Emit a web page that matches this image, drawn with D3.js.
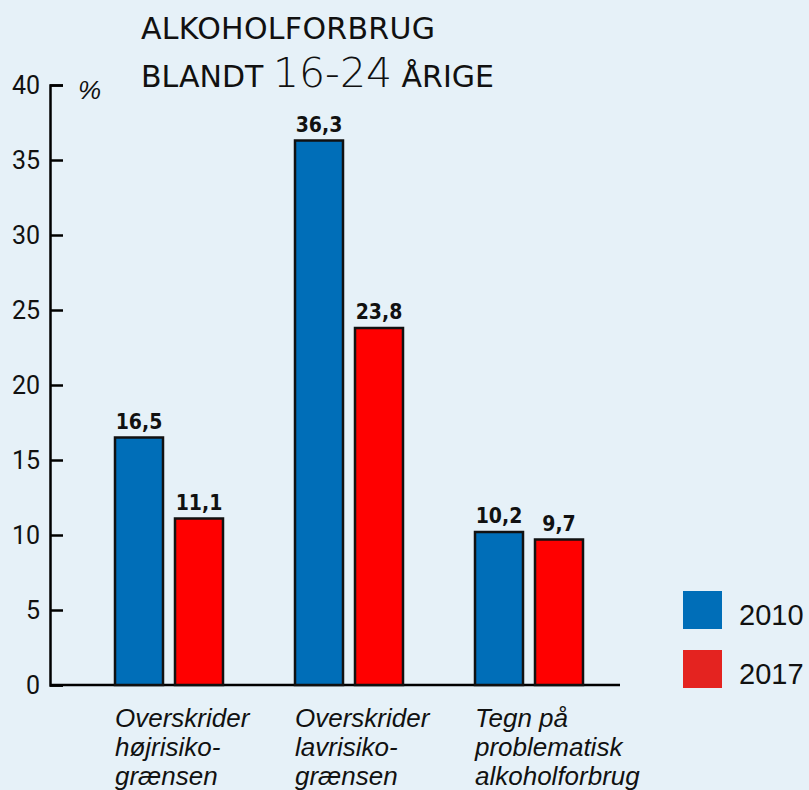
<!DOCTYPE html>
<html>
<head>
<meta charset="utf-8">
<script src="https://cdn.jsdelivr.net/npm/d3@7"></script>
<style>
  body { margin: 0; background: #e6f1f8; }
  svg { display: block; }
</style>
</head>
<body>
<div id="chart"></div>
<script>
const width = 809;
const height = 790;
const margin = { top: 85, right: 190, bottom: 105, left: 50 };

// data
const categories = [
  ['Overskrider', 'højrisiko-', 'grænsen'],
  ['Overskrider', 'lavrisiko-', 'grænsen'],
  ['Tegn på', 'problematisk', 'alkoholforbrug']
];
const years = ['2010', '2017'];
const values2010 = [16.5, 36.3, 10.2];
const values2017 = [11.1, 23.8, 9.7];
const yTicks = [0, 5, 10, 15, 20, 25, 30, 35, 40];

const barColors = { '2010': '#006eb8', '2017': '#ff0000' };
const legendColors = { '2010': '#006eb8', '2017': '#e42320' };

const rows = categories.map((c, i) => ({
  key: i,
  label: c,
  values: [
    { year: '2010', value: values2010[i] },
    { year: '2017', value: values2017[i] }
  ]
}));

const svg = d3.select('#chart')
  .append('svg')
  .attr('width', width)
  .attr('height', height);

const yScale = d3.scaleLinear()
  .domain([0, 40])
  .range([height - margin.bottom, margin.top]);

const xGroup = d3.scaleBand()
  .domain(rows.map(d => d.key))
  .range([79, 619]);

const xInner = d3.scaleBand()
  .domain(years)
  .range([36, 144])
  .paddingInner(0.2);

// title
const title = svg.append('text')
  .attr('font-family', 'DejaVu Sans, sans-serif')
  .attr('fill', '#111');
title.append('tspan')
  .attr('x', 141).attr('y', 39)
  .attr('font-size', 30)
  .attr('textLength', 294)
  .text('ALKOHOLFORBRUG');
const t2 = title.append('tspan').attr('x', 141).attr('y', 87);
t2.append('tspan').attr('font-size', 30).text('BLANDT ');
t2.append('tspan').attr('font-size', 41).attr('font-weight', 200)
  .attr('font-family', 'DejaVu Sans, sans-serif').text('16-24');
t2.append('tspan').attr('font-size', 30).text(' ÅRIGE');

// y axis
const yAxis = d3.axisLeft(yScale)
  .tickValues(yTicks)
  .tickSize(-13)
  .tickSizeOuter(-13)
  .tickPadding(10);

const yg = svg.append('g')
  .attr('transform', `translate(${margin.left},0)`)
  .call(yAxis);
yg.attr('font-size', 25).attr('font-family', 'Roboto, sans-serif');
yg.selectAll('line, path').attr('stroke', '#000').attr('stroke-width', 2.5);
yg.selectAll('text').attr('fill', '#111');

svg.append('text')
  .attr('x', 78).attr('y', 99)
  .attr('font-family', 'Liberation Sans, sans-serif')
  .attr('font-style', 'italic')
  .attr('font-size', 26)
  .attr('fill', '#111')
  .text('%');

// x axis line
svg.append('line')
  .attr('x1', margin.left).attr('x2', 620)
  .attr('y1', yScale(0)).attr('y2', yScale(0))
  .attr('stroke', '#000').attr('stroke-width', 2.5);

// bars
const groups = svg.append('g')
  .selectAll('g')
  .data(rows)
  .join('g')
  .attr('transform', d => `translate(${xGroup(d.key)},0)`);

groups.selectAll('rect')
  .data(d => d.values)
  .join('rect')
  .attr('x', d => xInner(d.year))
  .attr('y', d => yScale(d.value))
  .attr('width', xInner.bandwidth())
  .attr('height', d => yScale(0) - yScale(d.value))
  .attr('fill', d => barColors[d.year])
  .attr('stroke', '#111')
  .attr('stroke-width', 2.5);

groups.selectAll('text.val')
  .data(d => d.values)
  .join('text')
  .attr('class', 'val')
  .attr('x', d => xInner(d.year) + xInner.bandwidth() / 2)
  .attr('y', d => yScale(d.value) - 9)
  .attr('text-anchor', 'middle')
  .attr('font-family', 'DejaVu Sans Condensed, DejaVu Sans, sans-serif')
  .attr('font-weight', 'bold')
  .attr('font-size', 21)
  .attr('fill', '#111')
  .text(d => d3.format('.1f')(d.value).replace('.', ','));

// category labels
groups.append('text')
  .attr('font-family', 'Liberation Sans, Arial, sans-serif')
  .attr('font-style', 'italic')
  .attr('font-size', 26)
  .attr('fill', '#111')
  .selectAll('tspan')
  .data(d => d.label)
  .join('tspan')
  .attr('x', 36)
  .attr('y', (d, i) => 727 + i * 29)
  .text(d => d);

// legend
const legend = svg.append('g')
  .selectAll('g')
  .data(years)
  .join('g')
  .attr('transform', (d, i) => `translate(683,${591 + i * 59})`);

legend.append('rect')
  .attr('width', 39).attr('height', 38)
  .attr('fill', d => legendColors[d]);

legend.append('text')
  .attr('x', 56).attr('y', 34)
  .attr('font-family', 'Liberation Sans, Arial, sans-serif')
  .attr('font-size', 29)
  .attr('fill', '#111')
  .text(d => d);
</script>
</body>
</html>
